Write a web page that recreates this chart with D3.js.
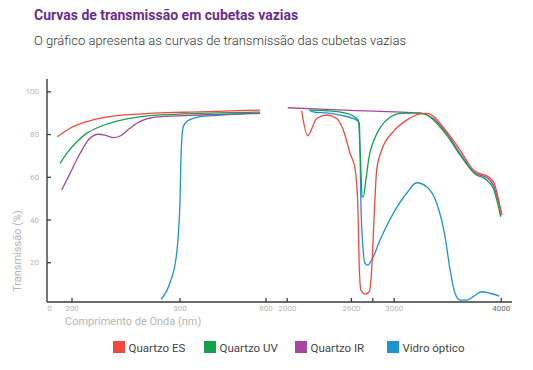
<!DOCTYPE html>
<html>
<head>
<meta charset="utf-8">
<script src="https://cdn.jsdelivr.net/npm/d3@7/dist/d3.min.js"></script>
<style>
  html, body { margin: 0; padding: 0; background: #fff; }
  svg { display: block; font-family: Roboto, "Noto Sans", sans-serif; }
</style>
</head>
<body>
<svg id="chart" width="533" height="370"></svg>
<script>
// ---- Data (wavelength in nm, transmission in %) ----
const seriesNames = ["Quartzo ES", "Quartzo UV", "Quartzo IR", "Vidro óptico"];
const seriesColors = ["#f2473f", "#13a14d", "#a5479f", "#1b94cf"];

// UV/visible segment (0–800 nm)
const quartzoESUv = [[84,78.7],[188,82.7],[211,85.3],[226,87.3],[242,88.6],[257,89.2],[272,89.7],[322,90.2],[419,90.4],[594,90.8],[768,91.2]];
const quartzoUVUv = [[106,66.3],[161,71],[205,76.4],[214,80.3],[226,83.4],[242,86.1],[257,87.6],[272,88.6],[322,89.4],[419,89.7],[768,90.3]];
const quartzoIRUv = [[120,53.8],[188,61.6],[208,71],[217,78],[225,79.9],[231,79.5],[239,78.3],[245,79.1],[254,82.7],[263,85.8],[276,87.8],[291,88.4],[419,88.9],[768,89.7]];
const vidroUv = [[283,2.7],[291,10.2],[297,22.6],[303,49],[310,72.5],[322,83.4],[342,85.8],[380,87.3],[419,88.1],[497,88.6],[768,89.7]];

// Infrared segment (2000–4000 nm)
const quartzoESIr = [[2140,90.8],[2196,79.2],[2280,87.3],[2374,88.9],[2467,87.3],[2529,81.9],[2592,71],[2638,64],[2664,48],[2679,16.4],[2694,7],[2732,5.1],[2772,6.2],[2794,16.4],[2816,39.8],[2841,63.2],[2888,72.5],[2996,81.1],[3121,86.5],[3246,89.4],[3308,89.7],[3495,81.1],[3620,72.5],[3744,63.2],[3807,61.5],[3869,60.4],[3931,57.7],[4010,42.1]];
const quartzoUVIr = [[2218,91.2],[2374,90.9],[2561,89.7],[2669,86.5],[2688,70],[2705,50.7],[2715,50.5],[2740,58.5],[2770,69.4],[2816,77.2],[2879,83.4],[2972,88.1],[3065,89.7],[3246,89.9],[3495,79.5],[3620,70.2],[3760,61.3],[3869,58.5],[3931,54.6],[4000,41.3]];
const quartzoIRIr = [[2010,92.3],[2600,91.06],[3246,89.7],[3370,87.3],[3495,80.3],[3620,71],[3744,62.4],[3807,60.8],[3869,59.7],[3931,56.1],[4010,42.1]];
const vidroIr = [[2211,91.2],[2264,90.2],[2374,89.9],[2498,88.9],[2654,86.5],[2679,85],[2686,70],[2694,47],[2710,29],[2732,19.5],[2757,18.7],[2794,21],[2872,30.4],[2996,42.9],[3121,52.3],[3215,57.2],[3308,55.3],[3402,47.6],[3480,32],[3527,16.4],[3573,5.5],[3620,2.3],[3682,2.3],[3744,3.9],[3822,6.2],[3900,5.5],[3987,4.2]];

const xTickValues = [0, 200, 300, 800, 2000, 2600, 2800, 3000, 4000];
const xTickLabels = ["0", "200", "300", "800", "2000", "2600", "", "3000", "4000"];
const yTickValues = [20, 40, 60, 80, 100];

// ---- Drawing ----
const svg = d3.select("#chart");

// broken (piecewise) wavelength scale
const x = d3.scaleLinear()
  .domain([0, 200, 300, 800, 2000, 4000])
  .range([47, 71.5, 179.5, 265.5, 286.7, 500.7]);
const y = d3.scaleLinear().domain([0, 100]).range([305, 91.3]);

const axisColor = "#3a3a3a";
const labelColor = "#b5b5b5";

// Title & subtitle
svg.append("text").attr("x", 34).attr("y", 20)
  .attr("font-size", 14).attr("font-weight", 700).attr("fill", "#6b2c8f")
  .text("Curvas de transmissão em cubetas vazias");
svg.append("text").attr("x", 34).attr("y", 45)
  .attr("font-size", 13).attr("font-weight", 300).attr("fill", "#333")
  .attr("textLength", 372).attr("lengthAdjust", "spacingAndGlyphs")
  .text("O gráfico apresenta as curvas de transmissão das cubetas vazias");

// Lines
const line = d3.line().x(d => x(d[0])).y(d => y(d[1])).curve(d3.curveMonotoneX);
const groups = [
  [vidroUv, vidroIr, 3],
  [quartzoIRUv, quartzoIRIr, 2],
  [quartzoUVUv, quartzoUVIr, 1],
  [quartzoESUv, quartzoESIr, 0]
];
groups.forEach(([a, b, i]) => {
  [a, b].forEach(data => {
    svg.append("path").datum(data)
      .attr("d", line)
      .attr("fill", "none")
      .attr("stroke", seriesColors[i])
      .attr("stroke-width", 1.3);
  });
});

// Y axis
const yAxis = d3.axisRight(y).tickValues(yTickValues).tickSize(4).tickFormat(d3.format("d"));
const gy = svg.append("g").attr("transform", "translate(47,0)").call(yAxis);
gy.select(".domain").remove();
gy.selectAll(".tick line").attr("stroke", axisColor).attr("stroke-width", 1.3);
gy.selectAll(".tick text").attr("x", -8).attr("text-anchor", "end")
  .attr("fill", labelColor).attr("font-size", 8).attr("font-family", "Roboto, sans-serif");
svg.append("line").attr("x1", 47).attr("x2", 47).attr("y1", 79).attr("y2", 302)
  .attr("stroke", axisColor).attr("stroke-width", 1.4);

// X axis
const xAxis = d3.axisTop(x).tickValues(xTickValues).tickSize(4)
  .tickFormat((d, i) => xTickLabels[i]);
const gx = svg.append("g").attr("transform", "translate(0,302)").call(xAxis);
gx.select(".domain").remove();
gx.selectAll(".tick line").attr("stroke", axisColor).attr("stroke-width", 1.3)
  .attr("display", d => d === 0 ? "none" : null);
gx.selectAll(".tick text").attr("y", 9).attr("dy", 0)
  .attr("fill", d => d === 4000 ? "#6a6a6a" : labelColor)
  .attr("font-size", 8).attr("font-family", "Roboto, sans-serif")
  .attr("transform", d => d === 0 ? "translate(2,0)" : null);
svg.append("line").attr("x1", 47).attr("x2", 512).attr("y1", 302).attr("y2", 302)
  .attr("stroke", axisColor).attr("stroke-width", 1.4);

// Axis titles
svg.append("text").attr("x", 65).attr("y", 325)
  .attr("font-size", 11).attr("fill", labelColor)
  .text("Comprimento de Onda (nm)");
svg.append("text")
  .attr("transform", "translate(21,251) rotate(-90)")
  .attr("text-anchor", "middle")
  .attr("font-size", 11).attr("fill", labelColor)
  .text("Transmissão (%)");

// Legend
const legendX = [113, 204, 295, 387];
const lg = svg.append("g");
seriesNames.forEach((name, i) => {
  lg.append("rect").attr("x", legendX[i]).attr("y", 341).attr("width", 12).attr("height", 12)
    .attr("fill", seriesColors[i]);
  lg.append("text").attr("x", legendX[i] + 15.5).attr("y", 351.5)
    .attr("font-size", 11.5).attr("fill", "#444").text(name);
});
</script>
</body>
</html>
